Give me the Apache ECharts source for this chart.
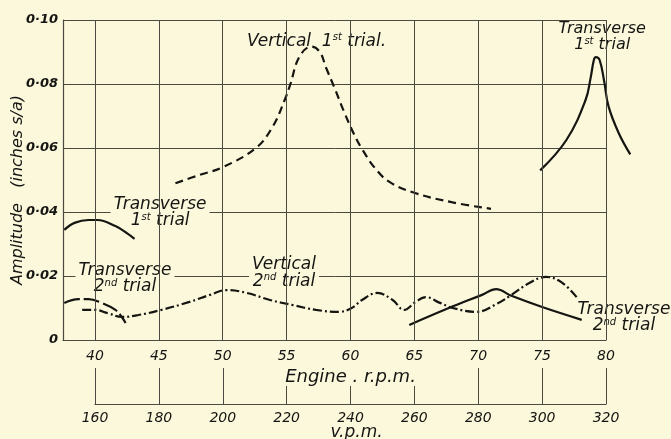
<!DOCTYPE html>
<html>
<head>
<meta charset="utf-8">
<script src="https://cdn.jsdelivr.net/npm/echarts@6/dist/echarts.min.js"></script>
<style>
  html, body { margin: 0; padding: 0; background: #fbf8dc; }
  #chart { width: 671px; height: 439px; }
</style>
</head>
<body>
<div id="chart"></div>
<script>
// values (engine r.p.m. vs amplitude, inches s/a)
var vert1Rpm = [46.3, 48.2, 50, 52.6, 53.9, 54.85, 55.3, 56.0, 56.95, 57.6, 58.1, 58.75, 59.5, 60.3, 60.95, 61.9, 63.05, 65.0, 68.0, 71.0]
var vert1Amp = [0.049, 0.0516, 0.054, 0.060, 0.0666, 0.075, 0.080, 0.0885, 0.0917, 0.090, 0.085, 0.0788, 0.0713, 0.0641, 0.0594, 0.0538, 0.0494, 0.046, 0.043, 0.041]

var trans1LeftRpm = [37.6, 38.4, 39.5, 40.2, 41.6, 42.5, 43.1]
var trans1LeftAmp = [0.0344, 0.0366, 0.0375, 0.0375, 0.0356, 0.0334, 0.0316]

// runs past the 80 r.p.m. border on the original
var trans1RightRpm = [74.85, 76.9, 78.4, 78.8, 79.05, 79.2, 79.5, 79.85, 80.2, 81.0, 81.9]
var trans1RightAmp = [0.053, 0.0625, 0.075, 0.082, 0.0875, 0.0884, 0.0875, 0.081, 0.073, 0.0646, 0.058]

var trans2LeftRpm = [37.6, 38.7, 39.5, 40.5, 41.6, 42.1, 42.4]
var trans2LeftAmp = [0.0116, 0.0128, 0.0128, 0.0116, 0.0094, 0.0072, 0.0053]

var trans2RightRpm = [64.6, 67.7, 70.3, 71.4, 72.6, 75.0, 78.1]
var trans2RightAmp = [0.0047, 0.0100, 0.0141, 0.0159, 0.0138, 0.0103, 0.0063]

var vert2Rpm = [39, 40, 41, 42.1, 43.4, 45.2, 47.4, 49, 50.3, 51.9, 53.7, 55.5, 57.3, 59.1, 60.1, 60.9, 62.1, 63.3, 64.2, 65.1, 65.9, 67, 68, 69.85, 71.5, 72.6, 74, 75.3, 76.5, 77.7]
var vert2Amp = [0.0094, 0.0094, 0.0084, 0.0072, 0.0078, 0.0094, 0.0119, 0.0141, 0.0156, 0.0147, 0.0125, 0.0109, 0.0094, 0.0088, 0.0100, 0.0125, 0.0147, 0.0125, 0.0094, 0.0119, 0.0134, 0.0116, 0.0100, 0.0088, 0.0114, 0.0141, 0.0178, 0.0197, 0.0181, 0.0134]

// curve captions
var noteText = [
  '{t|Vertical  1}{s|st}{t| trial.}',
  '{u|Transverse}\n{u|1}{s|st}{u| trial}',
  '{t|Transverse}\n{t|1}{s|st}{t| trial}',
  '{t|Transverse}\n{t|2}{s|nd}{t| trial}',
  '{t|Vertical}\n{t|2}{s|nd}{t| trial}',
  '{t|Transverse}\n{t|2}{s|nd}{t| trial}'
]
var noteRpm = [57.35, 79.7, 45.1, 42.35, 54.8, 81.4]
var noteAmp = [0.0934, 0.0947, 0.0397, 0.0191, 0.0209, 0.0069]

var bg = '#fbf8dc'
var ink = '#151512'
var gridInk = '#4a4a40'
var font = 'DejaVu Sans'

function pairs(xs, ys) {
  return xs.map(function (x, i) { return [x, ys[i]] })
}

function curve(name, xs, ys, type, axisIndex) {
  return {
    name: name,
    type: 'line',
    xAxisIndex: axisIndex || 0,
    yAxisIndex: axisIndex || 0,
    smooth: 0.4,
    showSymbol: false,
    clip: false,
    silent: true,
    z: 3,
    data: pairs(xs, ys),
    lineStyle: { color: ink, width: 2.2, type: type }
  }
}

var chart = echarts.init(document.getElementById('chart'))

// grid 2 is the main grid widened to 82.5 r.p.m., same scale, for the curve that leaves the frame
var mainWidth = 671 - 63 - 65
var wideRight = 671 - 63 - mainWidth * (82.5 - 37.5) / (80 - 37.5)

chart.setOption({
  backgroundColor: bg,
  animation: false,
  grid: [
    { left: 63, right: 65, top: 20, bottom: 99, outerBoundsMode: 'none' },
    { left: 95, right: 65, top: 368, bottom: 35, outerBoundsMode: 'none' },
    { left: 63, right: wideRight, top: 20, bottom: 99, outerBoundsMode: 'none' }
  ],
  xAxis: [{
    type: 'value',
    gridIndex: 0,
    min: 37.5,
    max: 80,
    splitNumber: 9,
    z: 10,
    name: 'Engine . r.p.m.',
    nameLocation: 'middle',
    nameGap: 28,
    nameMoveOverlap: false,
    nameTextStyle: {
      fontFamily: font, fontStyle: 'italic', fontSize: 18, color: ink,
      backgroundColor: bg, padding: [0, 4, 0, 36], align: 'center'
    },
    axisLine: { show: true, onZero: false, lineStyle: { color: gridInk, width: 1.2 } },
    axisTick: { show: false },
    splitLine: { show: true, lineStyle: { color: gridInk, width: 1 } },
    axisLabel: {
      margin: 9,
      fontFamily: font, fontStyle: 'italic', fontSize: 14, color: ink,
      formatter: function (v) { return v % 5 === 0 ? String(v) : '' }
    }
  }, {
    type: 'value',
    gridIndex: 1,
    min: 160,
    max: 320,
    interval: 20,
    z: 0,
    name: 'v.p.m.',
    nameLocation: 'middle',
    nameGap: 20,
    nameMoveOverlap: false,
    nameTextStyle: { fontFamily: font, fontStyle: 'italic', fontSize: 17, color: ink, padding: [0, 0, 0, 12] },
    axisLine: { show: true, onZero: false, lineStyle: { color: gridInk, width: 1.2 } },
    axisTick: { show: false },
    splitLine: { show: true, lineStyle: { color: gridInk, width: 1 } },
    axisLabel: { margin: 7, fontFamily: font, fontStyle: 'italic', fontSize: 14, color: ink }
  }, {
    type: 'value',
    gridIndex: 2,
    min: 37.5,
    max: 82.5,
    show: false
  }],
  yAxis: [{
    type: 'value',
    gridIndex: 0,
    min: 0,
    max: 0.1,
    interval: 0.02,
    name: 'Amplitude   (inches s/a)',
    nameLocation: 'middle',
    nameRotate: 90,
    nameGap: 37,
    nameMoveOverlap: false,
    nameTextStyle: { fontFamily: font, fontStyle: 'italic', fontSize: 16, color: ink, padding: [0, 20, 0, 0] },
    axisLine: { show: true, lineStyle: { color: gridInk, width: 1.2 } },
    axisTick: { show: false },
    splitLine: { show: true, lineStyle: { color: gridInk, width: 1 } },
    axisLabel: {
      margin: 5,
      fontFamily: font, fontStyle: 'italic', fontWeight: 'bold', fontSize: 13, color: ink,
      formatter: function (v) { return v === 0 ? '0' : v.toFixed(2).replace('.', '·') }
    }
  }, {
    type: 'value',
    gridIndex: 1,
    show: false
  }, {
    type: 'value',
    gridIndex: 2,
    min: 0,
    max: 0.1,
    show: false
  }],
  series: [
    curve('Vertical 1st trial', vert1Rpm, vert1Amp, [8, 5]),
    curve('Transverse 1st trial', trans1LeftRpm, trans1LeftAmp, 'solid'),
    curve('Transverse 1st trial (2)', trans1RightRpm, trans1RightAmp, 'solid', 2),
    curve('Transverse 2nd trial', trans2LeftRpm, trans2LeftAmp, [16, 4]),
    curve('Transverse 2nd trial (2)', trans2RightRpm, trans2RightAmp, 'solid'),
    curve('Vertical 2nd trial', vert2Rpm, vert2Amp, [9, 3, 2, 3]),
    {
      type: 'scatter',
      silent: true,
      clip: false,
      symbolSize: 0,
      itemStyle: { color: bg, opacity: 1 },
      z: 1,
      data: noteText.map(function (t, i) {
        return { value: [noteRpm[i], noteAmp[i]], label: { formatter: t } }
      }),
      label: {
        show: true,
        position: 'inside',
        align: 'center',
        color: ink,
        opacity: 1,
        backgroundColor: bg,
        padding: [0, 3, 0, 3],
        rich: {
          t: { fontFamily: font, fontStyle: 'italic', fontSize: 17, color: ink, lineHeight: 16 },
          u: { fontFamily: font, fontStyle: 'italic', fontSize: 16, color: ink, lineHeight: 15 },
          s: { fontFamily: font, fontStyle: 'italic', fontSize: 10, color: ink, padding: [0, 0, 7, 0] }
        }
      }
    }
  ]
})
</script>
</body>
</html>
